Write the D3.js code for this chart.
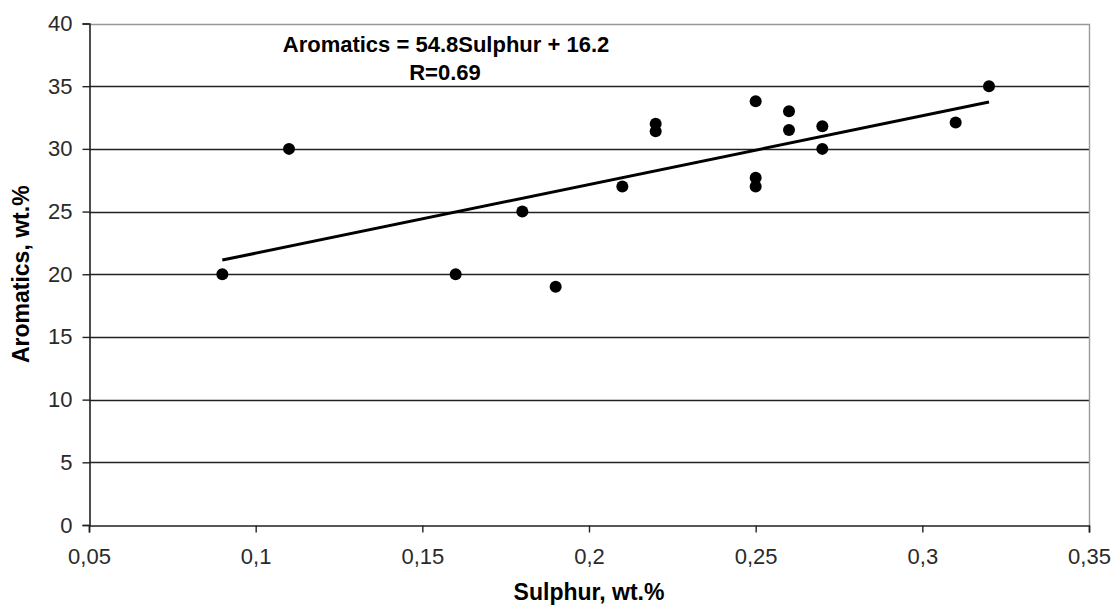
<!DOCTYPE html>
<html>
<head>
<meta charset="utf-8">
<script src="https://cdn.jsdelivr.net/npm/d3@7"></script>
<style>
  body { margin: 0; background: #fff; }
  text { font-family: "Liberation Sans", Arial, sans-serif; }
</style>
</head>
<body>
<div id="chart"></div>
<script>
// measured values
const sulphur = [0.09, 0.11, 0.16, 0.18, 0.19, 0.21, 0.22, 0.22, 0.25, 0.25, 0.25, 0.26, 0.26, 0.27, 0.27, 0.31, 0.32];
const aromatics = [20.0, 30.0, 20.0, 25.0, 19.0, 27.0, 32.0, 31.4, 33.8, 27.7, 27.0, 33.0, 31.5, 31.8, 30.0, 32.1, 35.0];
const xTicks = [0.05, 0.1, 0.15, 0.2, 0.25, 0.3, 0.35];
const yTicks = [0, 5, 10, 15, 20, 25, 30, 35, 40];
const trendSlope = 54.8;
const trendIntercept = 16.2;
const eqLines = ["Aromatics = 54.8Sulphur + 16.2", "R=0.69"];

const width = 1116, height = 608;
const margin = { top: 23.5, right: 27, bottom: 83, left: 89 };

const svg = d3.select("#chart").append("svg")
    .attr("width", width)
    .attr("height", height);

const x = d3.scaleLinear().domain([0.05, 0.35]).range([margin.left, width - margin.right]);
const y = d3.scaleLinear().domain([0, 40]).range([height - margin.bottom, margin.top]);

const fmt = d => String(d).replace(".", ",");

// gridlines
svg.append("g")
    .selectAll("line")
    .data(yTicks.filter(d => d > 0 && d < 40))
    .join("line")
    .attr("x1", x(0.05)).attr("x2", x(0.35))
    .attr("y1", d => Math.round(y(d)) + 0.5).attr("y2", d => Math.round(y(d)) + 0.5)
    .attr("stroke", "#222").attr("stroke-width", 1.4);

// plot border top / right
svg.append("path")
    .attr("d", `M${x(0.05)},${Math.round(y(40)) + 0.5}H${Math.round(x(0.35)) + 0.5}V${y(0)}`)
    .attr("fill", "none").attr("stroke", "#999").attr("stroke-width", 1.4);

// axes
const xAxis = svg.append("g")
    .attr("transform", `translate(0,${Math.round(y(0)) + 0.5})`)
    .call(d3.axisBottom(x).tickValues(xTicks).tickFormat(fmt).tickSize(7).tickPadding(16));
const yAxis = svg.append("g")
    .attr("transform", `translate(${Math.round(x(0.05)) + 0.5},0)`)
    .call(d3.axisLeft(y).tickValues(yTicks).tickSize(7).tickPadding(10));

[xAxis, yAxis].forEach(a => {
  a.select(".domain").attr("stroke", "#222").attr("stroke-width", 1.6);
  a.selectAll(".tick line").attr("stroke", "#222").attr("stroke-width", 1.4);
  a.selectAll(".tick text")
      .attr("font-family", "'Liberation Sans', Arial, sans-serif")
      .attr("font-size", 22).attr("fill", "#2a2a2a");
});

// trend line
svg.append("line")
    .attr("x1", x(d3.min(sulphur))).attr("y1", y(trendSlope * d3.min(sulphur) + trendIntercept))
    .attr("x2", x(d3.max(sulphur))).attr("y2", y(trendSlope * d3.max(sulphur) + trendIntercept))
    .attr("stroke", "#000").attr("stroke-width", 3);

// points
svg.append("g")
    .selectAll("circle")
    .data(sulphur.map((s, i) => [s, aromatics[i]]))
    .join("circle")
    .attr("cx", d => x(d[0]))
    .attr("cy", d => y(d[1]))
    .attr("r", 6)
    .attr("fill", "#000");

// equation label
svg.append("text")
    .attr("x", 446).attr("y", 52)
    .attr("text-anchor", "middle")
    .attr("font-size", 22).attr("font-weight", "bold")
    .text(eqLines[0]);
svg.append("text")
    .attr("x", 445).attr("y", 80)
    .attr("text-anchor", "middle")
    .attr("font-size", 22).attr("font-weight", "bold")
    .text(eqLines[1]);

// axis titles
svg.append("text")
    .attr("x", (x(0.05) + x(0.35)) / 2).attr("y", 600)
    .attr("text-anchor", "middle")
    .attr("font-size", 23).attr("font-weight", "bold")
    .text("Sulphur, wt.%");
svg.append("text")
    .attr("transform", `translate(29,${(y(0) + y(40)) / 2}) rotate(-90)`)
    .attr("text-anchor", "middle")
    .attr("font-size", 23).attr("font-weight", "bold")
    .text("Aromatics, wt.%");
</script>
</body>
</html>
